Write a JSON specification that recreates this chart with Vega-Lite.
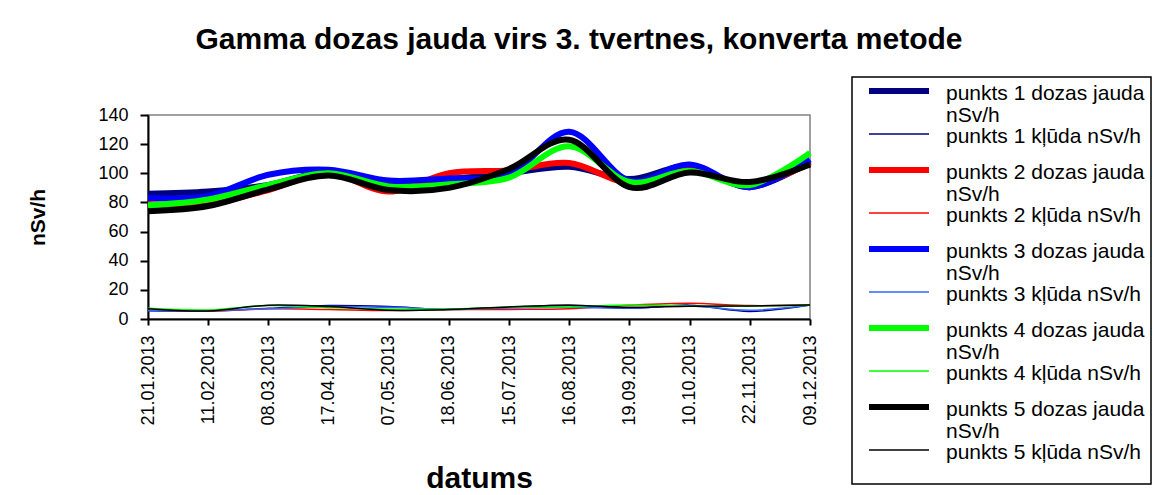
{
  "$schema": "https://vega.github.io/schema/vega-lite/v6.json",
  "width": 662,
  "height": 204,
  "autosize": {"type": "none"},
  "padding": {"left": 148, "top": 115, "right": 349, "bottom": 176},
  "background": "white",
  "title": {"text": "Gamma dozas jauda virs 3. tvertnes, konverta metode", "fontSize": 30, "fontWeight": "bold", "font": "Liberation Sans", "anchor": "middle", "dx": 100, "offset": 21, "color": "black"},
  "data": {"values": [
    {"datums":"21.01.2013","serija":"punkts 1 dozas jauda nSv/h","v":86},
    {"datums":"11.02.2013","serija":"punkts 1 dozas jauda nSv/h","v":87.5},
    {"datums":"08.03.2013","serija":"punkts 1 dozas jauda nSv/h","v":92},
    {"datums":"17.04.2013","serija":"punkts 1 dozas jauda nSv/h","v":101},
    {"datums":"07.05.2013","serija":"punkts 1 dozas jauda nSv/h","v":93.5},
    {"datums":"18.06.2013","serija":"punkts 1 dozas jauda nSv/h","v":96},
    {"datums":"15.07.2013","serija":"punkts 1 dozas jauda nSv/h","v":100},
    {"datums":"16.08.2013","serija":"punkts 1 dozas jauda nSv/h","v":104.5},
    {"datums":"19.09.2013","serija":"punkts 1 dozas jauda nSv/h","v":96},
    {"datums":"10.10.2013","serija":"punkts 1 dozas jauda nSv/h","v":105},
    {"datums":"22.11.2013","serija":"punkts 1 dozas jauda nSv/h","v":90.5},
    {"datums":"09.12.2013","serija":"punkts 1 dozas jauda nSv/h","v":108},
    {"datums":"21.01.2013","serija":"punkts 1 kļūda nSv/h","v":5.7},
    {"datums":"11.02.2013","serija":"punkts 1 kļūda nSv/h","v":5.5},
    {"datums":"08.03.2013","serija":"punkts 1 kļūda nSv/h","v":7.3},
    {"datums":"17.04.2013","serija":"punkts 1 kļūda nSv/h","v":9.2},
    {"datums":"07.05.2013","serija":"punkts 1 kļūda nSv/h","v":8.5},
    {"datums":"18.06.2013","serija":"punkts 1 kļūda nSv/h","v":6.5},
    {"datums":"15.07.2013","serija":"punkts 1 kļūda nSv/h","v":8},
    {"datums":"16.08.2013","serija":"punkts 1 kļūda nSv/h","v":9.5},
    {"datums":"19.09.2013","serija":"punkts 1 kļūda nSv/h","v":7.3},
    {"datums":"10.10.2013","serija":"punkts 1 kļūda nSv/h","v":9.5},
    {"datums":"22.11.2013","serija":"punkts 1 kļūda nSv/h","v":5.2},
    {"datums":"09.12.2013","serija":"punkts 1 kļūda nSv/h","v":9.6},
    {"datums":"21.01.2013","serija":"punkts 2 dozas jauda nSv/h","v":79},
    {"datums":"11.02.2013","serija":"punkts 2 dozas jauda nSv/h","v":79},
    {"datums":"08.03.2013","serija":"punkts 2 dozas jauda nSv/h","v":88.5},
    {"datums":"17.04.2013","serija":"punkts 2 dozas jauda nSv/h","v":100},
    {"datums":"07.05.2013","serija":"punkts 2 dozas jauda nSv/h","v":87.5},
    {"datums":"18.06.2013","serija":"punkts 2 dozas jauda nSv/h","v":100},
    {"datums":"15.07.2013","serija":"punkts 2 dozas jauda nSv/h","v":102},
    {"datums":"16.08.2013","serija":"punkts 2 dozas jauda nSv/h","v":107},
    {"datums":"19.09.2013","serija":"punkts 2 dozas jauda nSv/h","v":93.5},
    {"datums":"10.10.2013","serija":"punkts 2 dozas jauda nSv/h","v":103.5},
    {"datums":"22.11.2013","serija":"punkts 2 dozas jauda nSv/h","v":92},
    {"datums":"09.12.2013","serija":"punkts 2 dozas jauda nSv/h","v":107},
    {"datums":"21.01.2013","serija":"punkts 2 kļūda nSv/h","v":6},
    {"datums":"11.02.2013","serija":"punkts 2 kļūda nSv/h","v":5.5},
    {"datums":"08.03.2013","serija":"punkts 2 kļūda nSv/h","v":7},
    {"datums":"17.04.2013","serija":"punkts 2 kļūda nSv/h","v":6.5},
    {"datums":"07.05.2013","serija":"punkts 2 kļūda nSv/h","v":5.8},
    {"datums":"18.06.2013","serija":"punkts 2 kļūda nSv/h","v":6.5},
    {"datums":"15.07.2013","serija":"punkts 2 kļūda nSv/h","v":6.6},
    {"datums":"16.08.2013","serija":"punkts 2 kļūda nSv/h","v":7},
    {"datums":"19.09.2013","serija":"punkts 2 kļūda nSv/h","v":9.5},
    {"datums":"10.10.2013","serija":"punkts 2 kļūda nSv/h","v":10.8},
    {"datums":"22.11.2013","serija":"punkts 2 kļūda nSv/h","v":9.2},
    {"datums":"09.12.2013","serija":"punkts 2 kļūda nSv/h","v":9.6},
    {"datums":"21.01.2013","serija":"punkts 3 dozas jauda nSv/h","v":83},
    {"datums":"11.02.2013","serija":"punkts 3 dozas jauda nSv/h","v":84.5},
    {"datums":"08.03.2013","serija":"punkts 3 dozas jauda nSv/h","v":99},
    {"datums":"17.04.2013","serija":"punkts 3 dozas jauda nSv/h","v":102.5},
    {"datums":"07.05.2013","serija":"punkts 3 dozas jauda nSv/h","v":95},
    {"datums":"18.06.2013","serija":"punkts 3 dozas jauda nSv/h","v":96.5},
    {"datums":"15.07.2013","serija":"punkts 3 dozas jauda nSv/h","v":99},
    {"datums":"16.08.2013","serija":"punkts 3 dozas jauda nSv/h","v":128.5},
    {"datums":"19.09.2013","serija":"punkts 3 dozas jauda nSv/h","v":95},
    {"datums":"10.10.2013","serija":"punkts 3 dozas jauda nSv/h","v":106},
    {"datums":"22.11.2013","serija":"punkts 3 dozas jauda nSv/h","v":90.5},
    {"datums":"09.12.2013","serija":"punkts 3 dozas jauda nSv/h","v":109.5},
    {"datums":"21.01.2013","serija":"punkts 3 kļūda nSv/h","v":5.7},
    {"datums":"11.02.2013","serija":"punkts 3 kļūda nSv/h","v":5.8},
    {"datums":"08.03.2013","serija":"punkts 3 kļūda nSv/h","v":7},
    {"datums":"17.04.2013","serija":"punkts 3 kļūda nSv/h","v":8.5},
    {"datums":"07.05.2013","serija":"punkts 3 kļūda nSv/h","v":8},
    {"datums":"18.06.2013","serija":"punkts 3 kļūda nSv/h","v":6.8},
    {"datums":"15.07.2013","serija":"punkts 3 kļūda nSv/h","v":7.5},
    {"datums":"16.08.2013","serija":"punkts 3 kļūda nSv/h","v":8},
    {"datums":"19.09.2013","serija":"punkts 3 kļūda nSv/h","v":7.5},
    {"datums":"10.10.2013","serija":"punkts 3 kļūda nSv/h","v":9},
    {"datums":"22.11.2013","serija":"punkts 3 kļūda nSv/h","v":6},
    {"datums":"09.12.2013","serija":"punkts 3 kļūda nSv/h","v":9.6},
    {"datums":"21.01.2013","serija":"punkts 4 dozas jauda nSv/h","v":78},
    {"datums":"11.02.2013","serija":"punkts 4 dozas jauda nSv/h","v":82},
    {"datums":"08.03.2013","serija":"punkts 4 dozas jauda nSv/h","v":92},
    {"datums":"17.04.2013","serija":"punkts 4 dozas jauda nSv/h","v":100},
    {"datums":"07.05.2013","serija":"punkts 4 dozas jauda nSv/h","v":91},
    {"datums":"18.06.2013","serija":"punkts 4 dozas jauda nSv/h","v":92.5},
    {"datums":"15.07.2013","serija":"punkts 4 dozas jauda nSv/h","v":97},
    {"datums":"16.08.2013","serija":"punkts 4 dozas jauda nSv/h","v":118.5},
    {"datums":"19.09.2013","serija":"punkts 4 dozas jauda nSv/h","v":94},
    {"datums":"10.10.2013","serija":"punkts 4 dozas jauda nSv/h","v":101.5},
    {"datums":"22.11.2013","serija":"punkts 4 dozas jauda nSv/h","v":92},
    {"datums":"09.12.2013","serija":"punkts 4 dozas jauda nSv/h","v":114},
    {"datums":"21.01.2013","serija":"punkts 4 kļūda nSv/h","v":7.3},
    {"datums":"11.02.2013","serija":"punkts 4 kļūda nSv/h","v":6.2},
    {"datums":"08.03.2013","serija":"punkts 4 kļūda nSv/h","v":9.2},
    {"datums":"17.04.2013","serija":"punkts 4 kļūda nSv/h","v":7.8},
    {"datums":"07.05.2013","serija":"punkts 4 kļūda nSv/h","v":6.8},
    {"datums":"18.06.2013","serija":"punkts 4 kļūda nSv/h","v":6.8},
    {"datums":"15.07.2013","serija":"punkts 4 kļūda nSv/h","v":8.2},
    {"datums":"16.08.2013","serija":"punkts 4 kļūda nSv/h","v":8.3},
    {"datums":"19.09.2013","serija":"punkts 4 kļūda nSv/h","v":9.6},
    {"datums":"10.10.2013","serija":"punkts 4 kļūda nSv/h","v":8.8},
    {"datums":"22.11.2013","serija":"punkts 4 kļūda nSv/h","v":9},
    {"datums":"09.12.2013","serija":"punkts 4 kļūda nSv/h","v":9.4},
    {"datums":"21.01.2013","serija":"punkts 5 dozas jauda nSv/h","v":74},
    {"datums":"11.02.2013","serija":"punkts 5 dozas jauda nSv/h","v":77.5},
    {"datums":"08.03.2013","serija":"punkts 5 dozas jauda nSv/h","v":89},
    {"datums":"17.04.2013","serija":"punkts 5 dozas jauda nSv/h","v":98.5},
    {"datums":"07.05.2013","serija":"punkts 5 dozas jauda nSv/h","v":88.5},
    {"datums":"18.06.2013","serija":"punkts 5 dozas jauda nSv/h","v":90},
    {"datums":"15.07.2013","serija":"punkts 5 dozas jauda nSv/h","v":103},
    {"datums":"16.08.2013","serija":"punkts 5 dozas jauda nSv/h","v":123},
    {"datums":"19.09.2013","serija":"punkts 5 dozas jauda nSv/h","v":90.5},
    {"datums":"10.10.2013","serija":"punkts 5 dozas jauda nSv/h","v":100.5},
    {"datums":"22.11.2013","serija":"punkts 5 dozas jauda nSv/h","v":94},
    {"datums":"09.12.2013","serija":"punkts 5 dozas jauda nSv/h","v":106},
    {"datums":"21.01.2013","serija":"punkts 5 kļūda nSv/h","v":7},
    {"datums":"11.02.2013","serija":"punkts 5 kļūda nSv/h","v":5.5},
    {"datums":"08.03.2013","serija":"punkts 5 kļūda nSv/h","v":9.5},
    {"datums":"17.04.2013","serija":"punkts 5 kļūda nSv/h","v":8.5},
    {"datums":"07.05.2013","serija":"punkts 5 kļūda nSv/h","v":6},
    {"datums":"18.06.2013","serija":"punkts 5 kļūda nSv/h","v":6.5},
    {"datums":"15.07.2013","serija":"punkts 5 kļūda nSv/h","v":8.3},
    {"datums":"16.08.2013","serija":"punkts 5 kļūda nSv/h","v":9.5},
    {"datums":"19.09.2013","serija":"punkts 5 kļūda nSv/h","v":8},
    {"datums":"10.10.2013","serija":"punkts 5 kļūda nSv/h","v":8.8},
    {"datums":"22.11.2013","serija":"punkts 5 kļūda nSv/h","v":9},
    {"datums":"09.12.2013","serija":"punkts 5 kļūda nSv/h","v":9.6}
  ]},
  "mark": {"type": "line", "interpolate": "cardinal", "strokeCap": "butt"},
  "encoding": {
    "x": {"field": "datums", "type": "ordinal", "sort": null, "scale": {"type": "point", "padding": 0},
      "axis": {"title": "datums", "labelAngle": -90, "labelFontSize": 18, "labelPadding": 10, "tickSize": 6, "titleFontSize": 30, "titleFontWeight": "bold", "titlePadding": 38}},
    "y": {"field": "v", "type": "quantitative", "scale": {"domain": [0, 140], "nice": false},
      "axis": {"title": "nSv/h", "values": [0, 20, 40, 60, 80, 100, 120, 140], "labelFontSize": 18, "labelPadding": 12, "tickSize": 8, "titleFontSize": 21, "titleFontWeight": "bold", "titlePadding": 49}},
    "color": {"field": "serija", "type": "nominal", "sort": null,
      "scale": {"domain": ["punkts 1 dozas jauda nSv/h", "punkts 1 kļūda nSv/h", "punkts 2 dozas jauda nSv/h", "punkts 2 kļūda nSv/h", "punkts 3 dozas jauda nSv/h", "punkts 3 kļūda nSv/h", "punkts 4 dozas jauda nSv/h", "punkts 4 kļūda nSv/h", "punkts 5 dozas jauda nSv/h", "punkts 5 kļūda nSv/h"],
        "range": ["#000080", "#000080", "#FF0000", "#FF0000", "#0000FF", "#3366FF", "#00FF00", "#00FF00", "#000000", "#000000"]},
      "legend": {"title": null,
        "labelExpr": "indexof(datum.label, 'dozas') >= 0 ? [replace(datum.label, ' nSv/h', ''), 'nSv/h'] : [datum.label, ' ']",
        "encode": {"labels": {"update": {"dy": {"value": -8}, "lineHeight": {"signal": "indexof(datum.label, 'dozas') >= 0 ? 22 : 15"}}}}}},
    "strokeWidth": {"field": "serija", "type": "nominal", "sort": null,
      "scale": {"type": "ordinal", "domain": ["punkts 1 dozas jauda nSv/h", "punkts 1 kļūda nSv/h", "punkts 2 dozas jauda nSv/h", "punkts 2 kļūda nSv/h", "punkts 3 dozas jauda nSv/h", "punkts 3 kļūda nSv/h", "punkts 4 dozas jauda nSv/h", "punkts 4 kļūda nSv/h", "punkts 5 dozas jauda nSv/h", "punkts 5 kļūda nSv/h"],
        "range": [6, 1.5, 6, 1.5, 6, 1.5, 6, 1.5, 6, 1.5]},
      "legend": {"title": null,
        "labelExpr": "indexof(datum.label, 'dozas') >= 0 ? [replace(datum.label, ' nSv/h', ''), 'nSv/h'] : [datum.label, ' ']",
        "encode": {"labels": {"update": {"dy": {"value": -8}, "lineHeight": {"signal": "indexof(datum.label, 'dozas') >= 0 ? 22 : 15"}}}}}}
  },
  "config": {
    "font": "Liberation Sans",
    "view": {"stroke": "#808080", "strokeWidth": 1.5},
    "axis": {"grid": false, "labelColor": "black", "titleColor": "black", "domainColor": "black", "tickColor": "black", "domainWidth": 2, "tickWidth": 2, "labelFont": "Liberation Sans", "titleFont": "Liberation Sans"},
    "legend": {"orient": "none", "legendX": 704, "legendY": -38, "padding": 6, "strokeColor": "black", "strokeWidth": 1.5, "fillColor": "white",
      "symbolType": "stroke", "symbolSize": 3600, "symbolOffset": 8, "clipHeight": 16, "labelBaseline": "top", "labelFontSize": 21, "labelFont": "Liberation Sans", "labelColor": "black", "labelLimit": 400, "labelOffset": 14, "rowPadding": -1.5}
  }
}
